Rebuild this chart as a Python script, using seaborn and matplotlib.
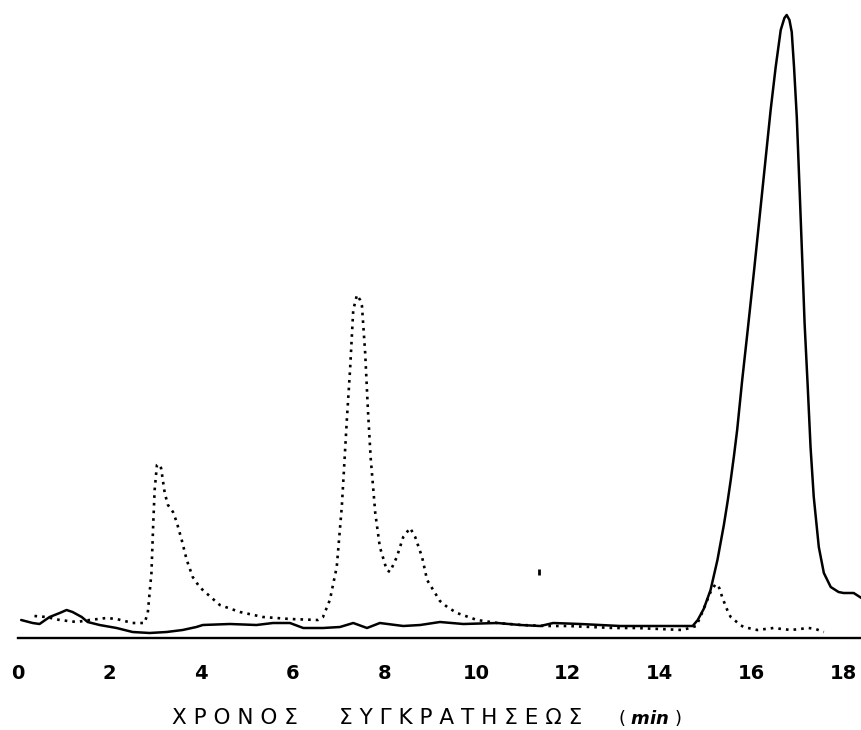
import numpy as np
import pandas as pd
import matplotlib
matplotlib.use("Agg")
import matplotlib.pyplot as plt
import seaborn as sns

# Retention time (min) and detector response of the dotted trace
dotted_time = [0.37, 0.63, 0.92, 1.29, 1.57, 1.94, 2.16, 2.51, 2.77, 2.84,
               2.92, 2.96, 2.99, 3.04, 3.07, 3.13, 3.21, 3.28, 3.39, 3.47,
               3.58, 3.69, 3.82, 3.97, 4.04, 4.41, 4.85, 5.35, 5.94, 6.55,
               6.66, 6.81, 6.96, 7.07, 7.12, 7.18, 7.25, 7.32, 7.40, 7.47,
               7.51, 7.58, 7.64, 7.70, 7.80, 7.90, 8.05, 8.12, 8.27, 8.41,
               8.56, 8.67, 8.82, 8.93, 9.21, 9.37, 9.58, 10.02, 10.46, 11.00,
               11.50, 12.00, 12.50, 13.00, 13.50, 14.00, 14.50, 14.80, 14.96, 15.11,
               15.22, 15.30, 15.37, 15.50, 15.55, 15.76, 15.83, 16.13, 16.48, 16.86,
               17.25, 17.40, 17.58]
dotted_signal = [22, 21, 18, 16, 18, 20, 19, 15, 15, 25,
                 65, 115, 148, 173, 174, 170, 145, 133, 126, 116,
                 98, 78, 61, 51, 48, 33, 26, 21, 19, 18,
                 21, 38, 71, 131, 170, 218, 268, 328, 343, 338,
                 332, 285, 228, 180, 125, 91, 68, 66, 81, 101,
                 110, 101, 81, 58, 37, 31, 25, 18, 15, 13,
                 12, 12, 11, 10, 10, 9, 8, 12, 29, 46,
                 54, 50, 40, 25, 21, 13, 11, 8, 10, 8,
                 10, 9, 6]

# Retention time (min) and detector response of the solid trace
solid_time = [0.08, 0.33, 0.48, 0.70, 0.92, 1.07, 1.20, 1.40, 1.53, 1.79,
              2.16, 2.51, 2.88, 3.25, 3.60, 3.90, 4.04, 4.63, 5.21, 5.57,
              5.94, 6.23, 6.66, 7.03, 7.32, 7.62, 7.90, 8.41, 8.78, 9.21,
              9.72, 10.46, 10.96, 11.40, 11.68, 12.27, 13.14, 14.24, 14.72, 14.83,
              14.96, 15.11, 15.26, 15.40, 15.48, 15.55, 15.62, 15.69, 15.80, 15.92,
              16.06, 16.24, 16.42, 16.53, 16.64, 16.72, 16.77, 16.83, 16.88, 16.93,
              16.99, 17.06, 17.12, 17.16, 17.23, 17.29, 17.36, 17.47, 17.58, 17.73,
              17.90, 18.01, 18.23, 18.40]
solid_signal = [18, 15, 14, 21, 25, 28, 26, 21, 16, 13,
                10, 6, 5, 6, 8, 11, 13, 14, 13, 15,
                15, 10, 10, 11, 15, 10, 15, 12, 13, 16,
                14, 15, 13, 12, 15, 14, 12, 12, 12, 18,
                29, 48, 78, 113, 136, 158, 182, 208, 258, 308,
                368, 448, 528, 571, 608, 620, 623, 618, 606, 571,
                521, 438, 365, 315, 250, 191, 141, 91, 65, 51,
                46, 45, 45, 40]

# Stray speck on the chart paper
speck_time = [11.37]
speck_signal = [66]

tick_values = [0, 2, 4, 6, 8, 10, 12, 14, 16, 18]
tick_labels = ["0", "2", "4", "6", "8", "10", "12", "14", "16", "18"]

axis_title = "Χ Ρ Ο Ν Ο Σ      Σ Υ Γ Κ Ρ Α Τ Η Σ Ε Ω Σ"
unit_label = "( $\\boldsymbol{min}$ )"

sns.set_style("white")
plt.rcParams["font.family"] = ["DejaVu Sans"]

dotted_df = pd.DataFrame({"time": dotted_time, "signal": dotted_signal})
solid_df = pd.DataFrame({"time": solid_time, "signal": solid_signal})

fig = plt.figure(figsize=(8.61, 7.30), dpi=100)
ax = fig.add_axes([17.5 / 861, 92 / 730, 1 - 17.5 / 861, 638 / 730])

sns.lineplot(data=dotted_df, x="time", y="signal", ax=ax, color="black",
             linewidth=1.9, estimator=None, sort=False)
ax.lines[-1].set_dashes((1.0, 1.9))
sns.lineplot(data=solid_df, x="time", y="signal", ax=ax, color="black",
             linewidth=1.8, estimator=None, sort=False)
ax.plot(speck_time, speck_signal, marker="|", markersize=5, color="black",
        markeredgewidth=2, linestyle="none")

ax.set_xlim(0, 18.39)
ax.set_ylim(0, 638)
for side in ["top", "left", "right"]:
    ax.spines[side].set_visible(False)
ax.spines["bottom"].set_linewidth(1.7)
ax.spines["bottom"].set_color("black")

ax.set_xticks(tick_values)
ax.set_xticklabels(tick_labels, fontsize=14, fontweight="bold")
ax.tick_params(axis="x", direction="in", length=7.5, width=1.7, pad=19,
               colors="black")
ax.set_yticks([])
ax.set_xlabel("")
ax.set_ylabel("")

fig.text(172 / 861, 6 / 730, axis_title, fontsize=15.5, ha="left",
         va="baseline", color="black")
fig.text(618 / 861, 6 / 730, unit_label, fontsize=13, ha="left",
         va="baseline", color="black")

fig.savefig("out.png", dpi=100, facecolor="white")
